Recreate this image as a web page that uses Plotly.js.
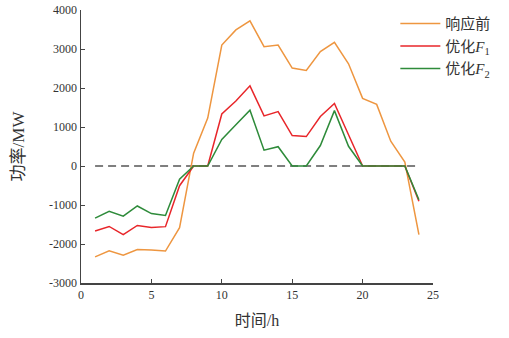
<!DOCTYPE html>
<html>
<head>
<meta charset="utf-8">
<script src="https://cdn.plot.ly/plotly-3.0.1.min.js"></script>
<style>html,body{margin:0;padding:0;background:#fff;}#chart{width:509px;height:338px;}</style>
</head>
<body>
<div id="chart"></div>
<script>
const hours = [1,2,3,4,5,6,7,8,9,10,11,12,13,14,15,16,17,18,19,20,21,22,23,24];
const before = [-2330,-2175,-2290,-2140,-2155,-2180,-1580,330,1230,3100,3490,3720,3060,3100,2510,2450,2935,3170,2620,1735,1580,635,100,-1760];
const optF1 = [-1665,-1550,-1760,-1525,-1575,-1555,-505,0,0,1335,1665,2055,1285,1395,780,755,1270,1605,800,0,0,0,0,-905];
const optF2 = [-1335,-1160,-1285,-1025,-1220,-1270,-340,0,0,680,1060,1430,405,495,0,0,525,1420,505,0,0,0,0,-865];
const zeroLineX = [1,24];
const zeroLineY = [0,0];
const seriesNames = ['响应前','优化<i>F</i><sub>1</sub>','优化<i>F</i><sub>2</sub>'];
const xTicks = [0,5,10,15,20,25];
const yTickVals = [-3000,-2000,-1000,0,1000,2000,3000,4000];
const yTickText = ['-3000','-2000','-1000','0','1000','2000','3000','4000'];

const serif = '"Liberation Serif", "Noto Sans CJK SC", serif';
const traces = [
  {x: zeroLineX, y: zeroLineY, mode:'lines', line:{color:'#555555', width:1.6, dash:'8px,5px'}, showlegend:false, hoverinfo:'skip'},
  {x: hours, y: before, name: seriesNames[0], legendgroup:'a', mode:'lines', line:{color:'#EE9640', width:1.5}},
  {x: hours, y: optF1, name: seriesNames[1], legendgroup:'b', mode:'lines', line:{color:'#E8262A', width:1.5}},
  {x: hours, y: optF2, name: seriesNames[2], legendgroup:'c', mode:'lines', line:{color:'#2E8B3A', width:1.5}}
];
const layout = {
  width:509, height:338,
  margin:{l:81, r:76, t:7, b:55},
  paper_bgcolor:'#ffffff', plot_bgcolor:'#ffffff',
  font:{family:serif, size:12, color:'#333333'},
  xaxis:{range:[0,25], tickvals:xTicks, ticks:'inside', ticklen:4, tickcolor:'#444',
    showline:true, linecolor:'#444', linewidth:1.5, showgrid:false, zeroline:false,
    tickfont:{family:serif, size:12, color:'#333'},
    title:{text:'时间/h', font:{family:serif, size:16, color:'#333'}, standoff:14}},
  yaxis:{range:[-3000,4000], tickvals:yTickVals, ticktext:yTickText, ticks:'inside', ticklen:4, tickcolor:'#444',
    showline:true, linecolor:'#444', linewidth:1.5, showgrid:false, zeroline:false,
    tickfont:{family:serif, size:12, color:'#333'},
    title:{text:'功率/MW', font:{family:serif, size:17, color:'#333'}, standoff:20}},
  legend:{x:0.893, xanchor:'left', y:1.01, yanchor:'top', bgcolor:'rgba(0,0,0,0)',
    font:{family:serif, size:15, color:'#333'}, itemwidth:40, traceorder:'grouped', tracegroupgap:0},
  showlegend:true
};
Plotly.newPlot('chart', traces, layout, {staticPlot:true, displayModeBar:false});
</script>
</body>
</html>
